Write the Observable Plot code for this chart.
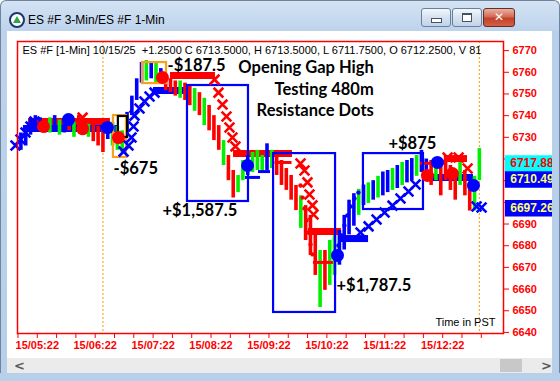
<!DOCTYPE html>
<html><head><meta charset="utf-8">
<script src="https://cdn.jsdelivr.net/npm/d3@7"></script>
<script src="https://cdn.jsdelivr.net/npm/@observablehq/plot@0.6"></script>
<style>
html,body{margin:0;padding:0;}
body{width:560px;height:381px;overflow:hidden;position:relative;font-family:"Liberation Sans",Arial,sans-serif;}
#frame{position:absolute;left:0;top:0;width:558px;height:380px;border:1px solid #6f859e;border-bottom:none;border-radius:6px 6px 0 0;background:linear-gradient(#d4e3f4 0px,#bdd3ec 30px,#b8cfe9 100%);}
#client{position:absolute;left:7px;top:31px;width:545px;height:327px;background:#fff;}
#title{position:absolute;left:28px;top:13px;font-size:12px;color:#000;font-family:"Liberation Sans",Arial,sans-serif;}
#icon{position:absolute;left:9px;top:12px;width:12px;height:12px;border-radius:50%;border:2px solid #1c3766;background:#fff;}
#icon:after{content:"";position:absolute;left:2px;top:2px;border-left:4px solid transparent;border-right:4px solid transparent;border-bottom:7px solid #2aa84a;}
.btn{position:absolute;top:8px;height:17px;border:1px solid #6a7f9c;border-radius:3px;background:linear-gradient(#f2f6fb,#d5e1ef 50%,#c3d4e8);}
#bmin{left:421px;width:28px;}
#bmax{left:452px;width:28px;}
#bclose{left:483px;width:30px;border-color:#5e3027;background:linear-gradient(#eab1a3,#d66a52 45%,#c2412a 55%,#d45f45);}
#bmin:after{content:"";position:absolute;left:9px;top:9px;width:9px;height:3px;background:#fff;border:1px solid #43526a;}
#bmax:after{content:"";position:absolute;left:9px;top:4px;width:8px;height:6px;background:#fff;border:1px solid #43526a;border-top-width:2px;}
#bclose span{position:absolute;left:0;top:0;width:30px;text-align:center;font:bold 12px "DejaVu Sans",sans-serif;color:#fff;line-height:17px;}
#chart{position:absolute;left:0;top:0;z-index:1;}
#rmask{position:absolute;left:552px;top:31px;width:7px;height:350px;z-index:2;background:#b8cfe9;border-right:1px solid #6f859e;}
#scroll{position:absolute;left:7px;top:358px;width:545px;height:15px;background:#ebebeb;z-index:2;}
#thumb{position:absolute;left:493px;top:1px;width:22px;height:13px;background:#c8c8c8;}
.arr{position:absolute;top:0;font:bold 13px "DejaVu Sans",sans-serif;color:#5a5a5a;line-height:15px;}
#bmask{position:absolute;left:0;top:373px;width:560px;height:8px;z-index:2;background:#b8cfe9;}
</style>
</head>
<body>
<div id="frame"></div>
<div id="client"></div>
<div id="icon"></div>
<div id="title">ES #F 3-Min/ES #F 1-Min</div>
<div class="btn" id="bmin"></div>
<div class="btn" id="bmax"></div>
<div class="btn" id="bclose"><span>✕</span></div>
<div id="rmask"></div>
<div id="scroll"><span class="arr" style="left:7px">&lt;</span><div id="thumb"></div><span class="arr" style="left:534px">&gt;</span></div>
<div id="bmask"></div>
<div id="chart"></div>
<script>
// ---- axis ticks (minutes since midnight, price) ----
const xTicks = [302,322,342,362,382,402,422,442,462,482,502,522,542,562,582,602,622,642,662,682,702,722,742,762,782];
const xLabelTicks = [322,382,442,502,562,622,682,742];
const xLabels = ["15/05:22","15/06:22","15/07:22","15/08:22","15/09:22","15/10:22","15/11:22","15/12:22"];
const yTicks = [6640,6650,6660,6670,6680,6690,6700,6710,6720,6730,6740,6750,6760,6770];
const yHiddenLabels = [6700,6710,6720]; // covered by the price tags
const sessionLines = [390, 780]; // 06:30 open, 13:00 close (PST)

// ---- price bars (5-minute summary of the 1-min bars) ----
const barTime = [305,310,315,320,325,330,335,340,345,350,355,360,365,370,375,380,385,390,395,400,405,410,415,420,425,430,435,440,445,450,455,460,465,470,475,480,485,490,495,500,505,510,515,520,525,530,535,540,545,550,555,560,565,570,575,580,585,590,595,600,605,610,615,620,625,630,635,640,645,650,655,660,665,670,675,680,685,690,695,700,705,710,715,720,725,730,735,740,745,750,755,760,765,770,775,780];
const barLow  = [6724,6726,6731,6734,6733,6732,6732,6734,6731,6732,6733,6730,6733,6731,6730,6728,6726,6723,6729,6726,6724,6723,6731,6740,6747,6755,6756,6757,6755,6755,6751.5,6750.6,6749,6748,6747,6744.6,6742,6740,6735.4,6733,6728.5,6724,6717,6710,6702,6704.5,6710,6712.4,6713.8,6714.7,6713.8,6714.7,6715.6,6712.4,6707.8,6705.5,6701,6696.2,6688,6682.4,6675.5,6666.3,6651.5,6659.4,6661.7,6666.3,6671,6678,6685,6689,6694,6698.5,6699.5,6701,6702,6703,6704.5,6705.5,6706.4,6707.8,6709,6710,6712,6713.8,6710,6707.8,6710,6703,6710,6705.5,6701,6707.8,6703,6696,6696,6710];
const barHigh = [6732,6735,6738.6,6740,6739,6738,6739,6740,6738,6738,6739,6737,6740,6737,6736,6736,6735,6734,6737,6737,6735,6733,6741.5,6749,6757,6764.5,6765.4,6764.5,6764.5,6761.7,6758.5,6757,6756,6756,6755,6754,6752.5,6750.6,6748,6744.7,6740,6735.4,6728.5,6721.6,6714.7,6712.4,6719.3,6721.6,6723,6724,6721.6,6727,6724,6721.6,6719.3,6715.6,6712.4,6707.8,6703,6698.5,6694,6687,6677.8,6677.8,6682.4,6684.7,6687,6694,6701,6704,6706,6708,6709,6710,6712,6714,6714.7,6715.6,6717,6718.4,6719.3,6720.2,6721.6,6724,6720,6719.3,6720,6719,6721.6,6717,6714.7,6718.4,6714.7,6707.8,6712,6724.8];
const barColor = "bbbbbrgbgbrgrrgrrrbgggbbbbgbgbrrrgrrgrgrrrgrrggbgggbgrrrrrgrrrgrggbbbbgbgbgbbgbgbbgbbrgrrrrgrrgg";

// ---- trailing-stop crosses ----
const crossTime  = [299.4,304.6,309.8,315,319.1, 411.4,416.5,419.6,421.7,422.7,427.9,433.1,438.3,443.5, 368.9, 505.6,509.7,513.9,518,521.1,524.2,527.3, 594.7,598.8,601.9,604,607.1,608.2, 656.9,665.2,673.5,681.8,690,698.3,706.6,713.9, 777.1,782.3, 747.1,758.5,767.8];
const crossPrice = [6726.2,6729,6732.2,6735,6737.3, 6723.4,6726.2,6729.9,6735,6740,6743.3,6746.5,6748.8,6750.6, 6739.1, 6756.6,6750.6,6745.1,6739.6,6734.5,6729.9,6725.8, 6717.9,6714.7,6709.2,6703.6,6698.6,6694.4, 6686.1,6688.9,6692.1,6695.3,6698.5,6701.8,6705,6708.2, 6698.1,6697.6, 6720.7,6720.7,6715.6];
const crossColor = "bbbbbbbbbbbbbbrrrrrrrrrrrrrrbbbbbbbbbbrrr";

// ---- 3-min signal dots ----
const dotTime  = [328.4,368.9,406.1,451.7,726.2,752.1, 354.3,394.7,539.8,633,736.5,773.9];
const dotPrice = [6735,6734,6729.9,6757.6,6712.4,6713.3, 6738.2,6734.5,6717,6675.5,6718.4,6707.8];
const dotColor = "rrrrrrbbbbbb";

// ---- resistance / support dots (small) ----
const smallTime  = [594.7,596.8,598.8,600.9,603,605.1,607.1, 634,637.1,640.2,643.3,646.4,650.6,654.7];
const smallPrice = [6707.8,6702.2,6697.2,6691.6,6686.1,6680.6,6676, 6680.1,6684.7,6689.3,6693.9,6698.1,6701.8,6704.5];
const smallColor = "rrrrrrrbbbbbbb";

// ---- horizontal resistance lines: start, end, price ----
const levelStart = [307.7,312.9,442.4,460,525.3,602.9,634.2,724.2,744.9, 537.7,551.2,568.3,608.1,719];
const levelEnd   = [405.1,397.8,480.7,506.6,586.4,637.1,665.2,773.9,767.7, 553.3,563.6,585.9,628.9,744.9];
const levelPrice = [6734.1,6737.3,6751.6,6758.5,6722.5,6686.6,6683.3,6711.5,6720.2, 6711.5,6714.2,6718.4,6672.3,6718];
const levelColor = "brbrrrbbrbbrrr";
const levelHeavy = [1,1,1,1,1,1,1,1,1,0,0,0,0,0];

// ---- trade boxes ----
const boxStart = [477.6,566.8,659.9,400.9,431,406];
const boxEnd   = [540.8,631,722.1,414.4,455.9,415.6];
const boxHigh  = [6753.9,6722.5,6722.5,6740,6764.5,6739.6];
const boxLow   = [6700.4,6649.2,6696.7,6720.7,6754.8,6729.9];
const boxColor = ["#0000ff","#0000ff","#0000ff","#f7a21b","#f7a21b","#000000"];

// ---- trade results ----
const pnlText  = ["-$187.5","-$675","+$1,587.5","+$1,787.5","+$875"];
const pnlTime  = [457,401,451.7,632,685.8];
const pnlPrice = [6763.2,6715.6,6696.2,6661.7,6727.1];

const noteText  = ["Opening Gap High","Testing 480m","Resistance Dots"];
const noteTime  = [670.6,670.6,670.6];
const notePrice = [6762.2,6752,6742.4];

const headerText = "ES #F [1-Min] 10/15/25  +1.2500 C 6713.5000, H 6713.5000, L 6711.7500, O 6712.2500, V 81";

// ---- right-edge price tags ----
const tagPrice = [6717.88, 6710.49, 6697.26];
const tagText  = ["6717.88","6710.49","6697.26"];
const tagBg    = ["#00ffff","#0000ff","#0000ff"];
const tagFg    = ["#ff0000","#ffff66","#ffff66"];
const tagX1 = 807, tagX2 = 856, tagTextX = 812;

const palette = {b: "#0000ff", r: "#ff0000", g: "#00f000"};

const bars = barTime.map((t, i) => ({t, lo: barLow[i], hi: barHigh[i], c: palette[barColor[i]]}));
const crosses = crossTime.map((t, i) => ({t, p: crossPrice[i], c: palette[crossColor[i]]}));
const dots = dotTime.map((t, i) => ({t, p: dotPrice[i], c: palette[dotColor[i]]}));
const small = smallTime.map((t, i) => ({t, p: smallPrice[i], c: palette[smallColor[i]]}));
const levels = levelStart.map((t1, i) => ({t1, t2: levelEnd[i], p: levelPrice[i], c: palette[levelColor[i]], heavy: levelHeavy[i]}));
const boxes = boxStart.map((t1, i) => ({t1, t2: boxEnd[i], p1: boxLow[i], p2: boxHigh[i], c: boxColor[i]}));
const pnl = pnlText.map((s, i) => ({s, t: pnlTime[i], p: pnlPrice[i]}));
const notes = noteText.map((s, i) => ({s, t: noteTime[i], p: notePrice[i]}));
const tags = tagPrice.map((p, i) => ({p, s: tagText[i], bg: tagBg[i], fg: tagFg[i]}));
const labelOf = new Map(xLabelTicks.map((t, i) => [t, xLabels[i]]));

const chart = Plot.plot({
  width: 560, height: 381,
  marginLeft: 17, marginRight: 57, marginTop: 41, marginBottom: 48,
  style: {background: "transparent", color: "#ff0000", fontFamily: "'Liberation Sans', Arial, sans-serif", fontSize: "11px", fontWeight: "bold", overflow: "visible"},
  color: {type: "identity"},
  x: {domain: [301.5, 805], ticks: xTicks, tickFormat: t => labelOf.get(t) ?? "", tickSize: 5, tickPadding: 3, label: null},
  y: {domain: [6639.5, 6774.2], axis: "right", ticks: yTicks, tickFormat: v => yHiddenLabels.includes(v) ? "" : String(v), tickSize: 5, tickPadding: 4, label: null},
  marks: [
    Plot.ruleX(sessionLines, {x: d => d, stroke: "#ff9900", strokeWidth: 1, strokeDasharray: "2,2"}),
    Plot.ruleY(levels.filter(d => d.heavy), {y: "p", x1: "t1", x2: "t2", stroke: "c", strokeWidth: 7}),
    Plot.ruleX(bars, {x: "t", y1: "lo", y2: "hi", stroke: "c", strokeWidth: 3.6}),
    Plot.ruleY(levels.filter(d => !d.heavy), {y: "p", x1: "t1", x2: "t2", stroke: "c", strokeWidth: 3}),
    Plot.rect(boxes, {x1: "t1", x2: "t2", y1: "p1", y2: "p2", stroke: "c", fill: "none", strokeWidth: 2.2}),
    Plot.dot(crosses, {x: "t", y: "p", symbol: "times", r: 4.5, stroke: "c", strokeWidth: 2.6}),
    Plot.dot(small, {x: "t", y: "p", r: 2.2, fill: "c"}),
    Plot.dot(dots, {x: "t", y: "p", r: 6.5, fill: "c"}),
    Plot.frame({stroke: "#ff0000", strokeWidth: 1.5}),
    Plot.text(pnl, {x: "t", y: "p", text: "s", textAnchor: "start", fill: "#000", fontFamily: "Lato", fontWeight: "bold", fontSize: 16.5}),
    Plot.text(notes, {x: "t", y: "p", text: "s", textAnchor: "end", fill: "#000", fontFamily: "Lato", fontWeight: "bold", fontSize: 16.5}),
    Plot.text([headerText], {text: d => d, frameAnchor: "top-left", lineAnchor: "middle", dx: 5, dy: 9, fill: "#000", fontWeight: "normal", fontSize: 11}),
    Plot.text(["Time in PST"], {text: d => d, frameAnchor: "bottom-right", lineAnchor: "middle", textAnchor: "end", dx: -8, dy: -11, fill: "#000", fontWeight: "normal", fontSize: 11}),
    Plot.ruleY(tags, {y: "p", x1: tagX1, x2: tagX2, stroke: "bg", strokeWidth: 16.5}),
    Plot.text(tags, {y: "p", x: tagTextX, text: "s", textAnchor: "start", fill: "fg", fontWeight: "bold", fontSize: 12})
  ]
});
document.getElementById("chart").appendChild(chart);
</script>
</body></html>
